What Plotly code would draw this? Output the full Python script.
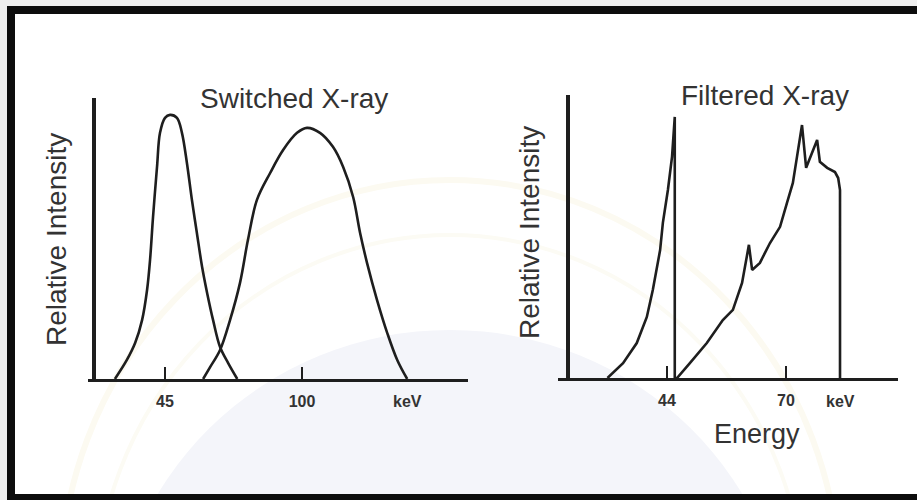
import plotly.graph_objects as go

# ---- Switched X-ray: two tube-voltage spectra (energy in keV, relative intensity) ----
low_kv_energy = [24.9, 29.7, 33.0, 35.8, 37.8, 39.0, 40.2, 41.8, 43.0, 45.0, 47.0,
                 49.8, 51.8, 53.8, 55.8, 57.8, 59.9, 61.9, 64.3, 67.1, 70.3, 74.0]
low_kv_intensity = [0.0, 0.072, 0.136, 0.223, 0.337, 0.451, 0.614, 0.803, 0.932, 0.989, 1.0,
                    0.989, 0.932, 0.818, 0.678, 0.553, 0.424, 0.326, 0.223, 0.121, 0.061, 0.0]

high_kv_energy = [60.3, 63.1, 67.1, 71.1, 75.1, 78.3, 81.9, 87.2, 92.4, 98.0, 102.0,
                  107.2, 112.4, 116.5, 120.5, 123.3, 126.1, 130.1, 134.2, 138.2, 142.2]
high_kv_intensity = [0.0, 0.045, 0.110, 0.223, 0.364, 0.527, 0.678, 0.780, 0.867, 0.932, 0.951,
                     0.932, 0.879, 0.803, 0.689, 0.553, 0.439, 0.299, 0.174, 0.072, 0.0]

# ---- Filtered X-ray: K-edge filtered spectrum split in two parts ----
filtered_low_energy = [31.0, 34.4, 37.4, 39.6, 40.9, 42.5, 43.1, 44.2, 45.1, 45.7, 45.7]
filtered_low_intensity = [0.0, 0.057, 0.134, 0.234, 0.337, 0.490, 0.594, 0.720, 0.847, 1.0, 0.0]

filtered_high_energy = [45.7, 46.2, 49.0, 52.7, 56.2, 58.4, 60.4, 61.0, 61.9, 62.6, 64.3, 66.5,
                        68.7, 70.2, 71.5, 72.4, 73.5, 74.4, 76.8, 77.4, 79.0, 80.7, 81.4, 81.8, 81.8]
filtered_high_intensity = [0.0, 0.0, 0.057, 0.134, 0.222, 0.261, 0.364, 0.425, 0.510, 0.414, 0.441,
                           0.517, 0.579, 0.670, 0.747, 0.847, 0.969, 0.805, 0.912, 0.828, 0.805,
                           0.789, 0.766, 0.720, 0.0]

# tick labels
switched_ticks = [45, 100]
switched_ticktext = ["45", "100"]
switched_max_energy = 142.2
filtered_ticks = [44, 70]
filtered_ticktext = ["44", "70"]
filtered_max_energy = 81.8

W, H = 917, 500
INK = "#1e1e1e"
TXT = "#333333"
FONT = "Liberation Sans"


def px(x):
    return x / W


def py(y):
    return 1 - y / H


fig = go.Figure()

line_style = dict(color=INK, width=2.6)
fig.add_trace(go.Scatter(x=low_kv_energy, y=low_kv_intensity, mode="lines",
                         line=dict(**line_style, shape="spline", smoothing=1.0),
                         xaxis="x", yaxis="y", showlegend=False, hoverinfo="skip"))
fig.add_trace(go.Scatter(x=high_kv_energy, y=high_kv_intensity, mode="lines",
                         line=dict(**line_style, shape="spline", smoothing=1.0),
                         xaxis="x", yaxis="y", showlegend=False, hoverinfo="skip"))
fig.add_trace(go.Scatter(x=filtered_low_energy, y=filtered_low_intensity, mode="lines",
                         line=dict(**line_style), xaxis="x2", yaxis="y2",
                         showlegend=False, hoverinfo="skip"))
fig.add_trace(go.Scatter(x=filtered_high_energy, y=filtered_high_intensity, mode="lines",
                         line=dict(**line_style), xaxis="x2", yaxis="y2",
                         showlegend=False, hoverinfo="skip"))

xaxis_common = dict(showline=True, linecolor=INK, linewidth=3, showgrid=False, zeroline=False,
                    ticks="inside", ticklen=12, tickwidth=2, tickcolor=INK,
                    tickfont=dict(family=FONT, size=16, color=TXT, weight="bold"),
                    ticklabelstandoff=6, fixedrange=True)
yaxis_common = dict(showline=True, linecolor=INK, linewidth=3.5, showgrid=False, zeroline=False,
                    showticklabels=False, ticks="", fixedrange=True, anchor="free")

fig.update_layout(
    width=W, height=H, autosize=False,
    margin=dict(l=0, r=0, t=0, b=0, pad=0),
    paper_bgcolor="white", plot_bgcolor="rgba(0,0,0,0)",
    xaxis=dict(domain=[px(88), px(468)], range=[14.1, 166.6], anchor="y",
               tickvals=switched_ticks, ticktext=switched_ticktext, **xaxis_common),
    yaxis=dict(domain=[py(379), py(98)], range=[0, 1.064], position=px(94), **yaxis_common),
    xaxis2=dict(domain=[px(558), px(898)], range=[20.19, 94.47], anchor="y2",
                tickvals=filtered_ticks, ticktext=filtered_ticktext, **xaxis_common),
    yaxis2=dict(domain=[py(378), py(95)], range=[0, 1.084], position=px(568), **yaxis_common),
)

# faint seal watermark in the background
shapes = [
    dict(type="circle", xref="paper", yref="paper", layer="below",
         x0=px(110), x1=px(790), y0=py(1000), y1=py(330),
         fillcolor="#f4f5fa", line=dict(width=0)),
    dict(type="circle", xref="paper", yref="paper", layer="below",
         x0=px(60), x1=px(840), y0=py(1000), y1=py(180),
         fillcolor="rgba(0,0,0,0)", line=dict(color="#fcfaf1", width=6)),
    dict(type="circle", xref="paper", yref="paper", layer="below",
         x0=px(95), x1=px(805), y0=py(980), y1=py(235),
         fillcolor="rgba(0,0,0,0)", line=dict(color="#fcfbf4", width=4)),
    # page edge outside the frame
    dict(type="rect", xref="paper", yref="paper", layer="below",
         x0=0, x1=1, y0=py(6), y1=1, fillcolor="#efefef", line=dict(width=0)),
    dict(type="rect", xref="paper", yref="paper", layer="below",
         x0=0, x1=px(7), y0=0, y1=1, fillcolor="#efefef", line=dict(width=0)),
    # black frame
    dict(type="rect", xref="paper", yref="paper", layer="above",
         x0=px(7), x1=1, y0=py(14), y1=py(6), fillcolor="#0d0d0d", line=dict(width=0)),
    dict(type="rect", xref="paper", yref="paper", layer="above",
         x0=px(7), x1=px(15), y0=0, y1=py(6), fillcolor="#0d0d0d", line=dict(width=0)),
    dict(type="rect", xref="paper", yref="paper", layer="above",
         x0=px(7), x1=1, y0=0, y1=py(494), fillcolor="#0d0d0d", line=dict(width=0)),
]
fig.update_layout(shapes=shapes)

title_font = dict(family=FONT, size=28, color=TXT)
annotations = [
    dict(text="Switched X-ray", x=px(294), y=py(99), xref="paper", yref="paper",
         showarrow=False, font=title_font, xanchor="center", yanchor="middle"),
    dict(text="Filtered X-ray", x=px(765), y=py(96), xref="paper", yref="paper",
         showarrow=False, font=title_font, xanchor="center", yanchor="middle"),
    dict(text="Relative Intensity", x=px(56), y=py(240), xref="paper", yref="paper",
         showarrow=False, font=dict(family=FONT, size=28, color=TXT), textangle=-90,
         xanchor="center", yanchor="middle"),
    dict(text="Relative Intensity", x=px(530), y=py(233), xref="paper", yref="paper",
         showarrow=False, font=dict(family=FONT, size=28, color=TXT), textangle=-90,
         xanchor="center", yanchor="middle"),
    dict(text="Energy", x=px(757), y=py(434), xref="paper", yref="paper",
         showarrow=False, font=dict(family=FONT, size=27, color=TXT),
         xanchor="center", yanchor="middle"),
    # unit labels placed at the end energy of each spectrum
    dict(text="keV", x=switched_max_energy, y=py(401), xref="x", yref="paper",
         showarrow=False, font=dict(family=FONT, size=16, color=TXT, weight="bold"),
         xanchor="center", yanchor="middle"),
    dict(text="keV", x=filtered_max_energy, y=py(401), xref="x2", yref="paper",
         showarrow=False, font=dict(family=FONT, size=16, color=TXT, weight="bold"),
         xanchor="center", yanchor="middle"),
]
fig.update_layout(annotations=annotations)

fig.write_html("out.html")
